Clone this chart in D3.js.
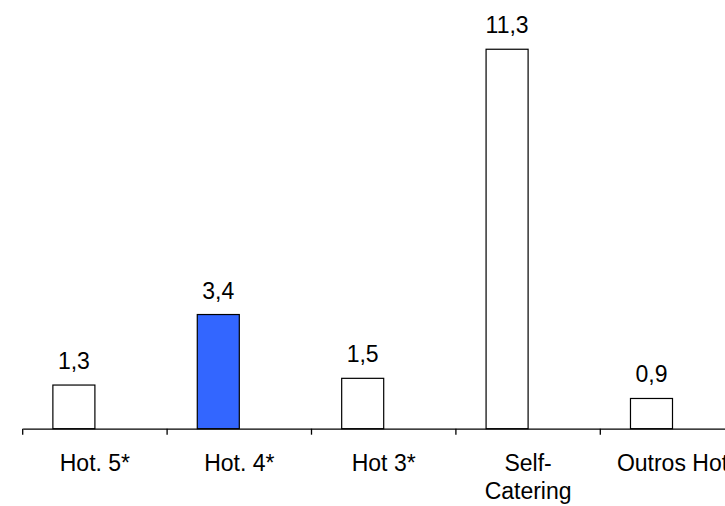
<!DOCTYPE html>
<html><head><meta charset="utf-8">
<script src="https://cdn.jsdelivr.net/npm/d3@7"></script>
<style>html,body{margin:0;padding:0;background:#fff;}svg{display:block;}</style>
</head><body>
<svg id="chart" width="725" height="506"></svg>
<script>
const categories = ["Hot. 5*", "Hot. 4*", "Hot 3*", "Self-\nCatering", "Outros Hot"];
const values = [1.3, 3.4, 1.5, 11.3, 0.9];
const valueLabels = ["1,3", "3,4", "1,5", "11,3", "0,9"];
const highlight = [false, true, false, false, false];

const svg = d3.select("#chart");
const font = "'Liberation Sans', Arial, sans-serif";
const fs = 23;
const baseY = 428.7;
const x = d3.scaleBand().domain(categories).range([22.7, 22.7 + 5 * 144.4]).padding(0);
const y = d3.scaleLinear().domain([0, 12]).range([baseY, baseY - 12 * 33.58]);
const bw = x.bandwidth();
const barW = bw * 0.291;

svg.append("g").selectAll("rect").data(categories).join("rect")
  .attr("x", (c) => x(c) + bw / 2 - barW)
  .attr("y", (c, i) => y(values[i]))
  .attr("width", barW)
  .attr("height", (c, i) => y(0) - y(values[i]))
  .attr("fill", (c, i) => highlight[i] ? "#3366ff" : "#ffffff")
  .attr("stroke", "#000").attr("stroke-width", 1.2);

svg.append("g").selectAll("text").data(categories).join("text")
  .attr("x", (c) => x(c) + bw / 2 - barW / 2)
  .attr("y", (c, i) => y(values[i]) - 16)
  .attr("text-anchor", "middle")
  .attr("font-family", font).attr("font-size", fs).attr("fill", "#000")
  .text((c, i) => valueLabels[i]);

const axis = d3.axisBottom(x).tickSize(0).tickFormat(() => "");
const ag = svg.append("g").attr("transform", `translate(0,${baseY})`).call(axis);
ag.select(".domain").attr("stroke", "#000").attr("stroke-width", 1.3);
// tick marks at category boundaries
const bounds = categories.map((c) => x(c));
ag.selectAll(".bnd").data(bounds).join("line").attr("class", "bnd")
  .attr("x1", (d) => d).attr("x2", (d) => d).attr("y1", 0).attr("y2", 6)
  .attr("stroke", "#000").attr("stroke-width", 1.3);

const lbl = svg.append("g").selectAll("text").data(categories).join("text")
  .attr("x", (c) => x(c) + bw / 2)
  .attr("y", 471)
  .attr("text-anchor", "middle")
  .attr("font-family", font).attr("font-size", fs).attr("fill", "#000");
lbl.each(function (c) {
  const lines = c.split("\n");
  d3.select(this).selectAll("tspan").data(lines).join("tspan")
    .attr("x", x(c) + bw / 2).attr("dy", (d, i) => i === 0 ? 0 : 28)
    .text((d) => d);
});
</script>
</body></html>
